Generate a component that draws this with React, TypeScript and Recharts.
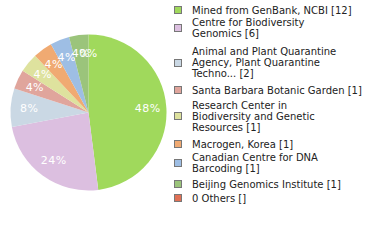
import { PieChart, Pie, Cell } from "recharts"

const sources = [
  "Mined from GenBank, NCBI",
  "Centre for Biodiversity Genomics",
  "Animal and Plant Quarantine Agency, Plant Quarantine Techno...",
  "Santa Barbara Botanic Garden",
  "Research Center in Biodiversity and Genetic Resources",
  "Macrogen, Korea",
  "Canadian Centre for DNA Barcoding",
  "Beijing Genomics Institute",
  "0 Others",
]
const records = [12, 6, 2, 1, 1, 1, 1, 1, 0]
const countLabels = ["[12]", "[6]", "[2]", "[1]", "[1]", "[1]", "[1]", "[1]", "[]"]

// legend text as it wraps in the original
const legendLines = [
  ["Mined from GenBank, NCBI [12]"],
  ["Centre for Biodiversity", "Genomics [6]"],
  ["Animal and Plant Quarantine", "Agency, Plant Quarantine", "Techno... [2]"],
  ["Santa Barbara Botanic Garden [1]"],
  ["Research Center in", "Biodiversity and Genetic", "Resources [1]"],
  ["Macrogen, Korea [1]"],
  ["Canadian Centre for DNA", "Barcoding [1]"],
  ["Beijing Genomics Institute [1]"],
  ["0 Others []"],
]

const colors = [
  "#a0d95c",
  "#dcbfe0",
  "#cad8e4",
  "#e0a59c",
  "#dee29e",
  "#f0aa72",
  "#9ebee4",
  "#9bc47b",
  "#e07055",
]

const rowCenters = [10, 27.5, 62.5, 90, 116, 144, 162.5, 184, 198]

const data = sources.map((name, i) => ({ name, value: records[i], count: countLabels[i] }))

const RAD = Math.PI / 180

function renderLabel(props: any) {
  const { cx, cy, midAngle, outerRadius, percent } = props
  const r = outerRadius * 0.76
  const x = cx + r * Math.cos(-midAngle * RAD)
  const y = cy + r * Math.sin(-midAngle * RAD)
  return (
    <text
      x={x}
      y={y}
      fill="#ffffff"
      textAnchor="middle"
      dominantBaseline="central"
      fontFamily="DejaVu Sans"
      fontSize={11}
      letterSpacing={0.5}
    >
      {`${Math.round(percent * 100)}%`}
    </text>
  )
}

export default function App() {
  return (
    <div
      style={{
        position: "absolute",
        left: 0,
        top: 0,
        width: 380,
        height: 240,
        background: "#fff",
        fontFamily: "DejaVu Sans",
      }}
    >
      <PieChart width={170} height={240}>
        <Pie
          data={data}
          dataKey="value"
          nameKey="name"
          cx={83.5}
          cy={107.5}
          outerRadius={78}
          startAngle={90}
          endAngle={-270}
          stroke="none"
          label={renderLabel}
          labelLine={false}
          isAnimationActive={false}
        >
          {data.map((d, i) => (
            <Cell key={d.name} fill={colors[i]} />
          ))}
        </Pie>
      </PieChart>
      {legendLines.map((lines, i) => {
        const h = lines.length * 11
        return (
          <div
            key={i}
            style={{
              position: "absolute",
              left: 174,
              top: rowCenters[i] - h / 2,
              height: h,
              display: "flex",
              alignItems: "center",
            }}
          >
            <div
              style={{
                width: 6,
                height: 6,
                background: colors[i],
                border: "1px solid #777",
                flexShrink: 0,
              }}
            />
            <div
              style={{
                marginLeft: 10,
                fontSize: 10,
                lineHeight: "11px",
                color: "#222",
                whiteSpace: "nowrap",
              }}
            >
              {lines.map((l) => (
                <div key={l}>{l}</div>
              ))}
            </div>
          </div>
        )
      })}
    </div>
  )
}
